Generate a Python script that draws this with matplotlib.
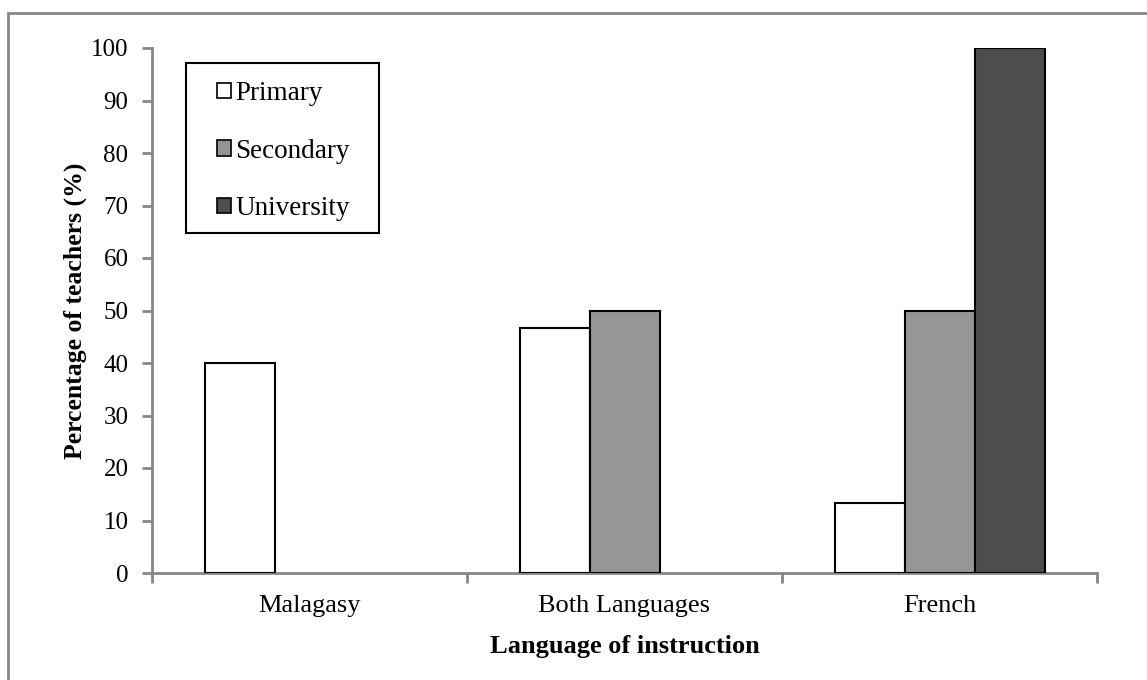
import numpy as np
import matplotlib.pyplot as plt
from matplotlib.patches import Rectangle

plt.rcParams['font.family'] = ['Liberation Serif', 'DejaVu Serif']

categories = ['Malagasy', 'Both Languages', 'French']
levels = ['Primary', 'Secondary', 'University']
primary = [40.0, 46.7, 13.3]
secondary = [0.0, 50.0, 50.0]
university = [0.0, 0.0, 100.0]
series = [primary, secondary, university]
fills = ['#ffffff', '#969696', '#4d4d4d']
grey = '#868686'

W, H = 1147, 680
L, R, B, T = 152, 1097, 573, 48
fig = plt.figure(figsize=(W / 100, H / 100), dpi=100)
ax = fig.add_axes([L / W, 1 - B / H, (R - L) / W, (B - T) / H])

# outer chart border (right/bottom edges fall outside the image)
fig.patches.append(Rectangle((8 / W, -0.01), 1.2, 1 - 13 / H + 0.01,
                             transform=fig.transFigure, fill=False,
                             edgecolor=grey, linewidth=2))

x = np.arange(len(categories))
bw = 1 / 4.5
for i, (vals, c, lab) in enumerate(zip(series, fills, levels)):
    vals = np.array(vals)
    keep = vals > 0  # excel draws nothing for a zero bar
    ax.bar(x[keep] + (i - 1) * bw, vals[keep], bw, color=c, edgecolor='black',
           linewidth=1.5, label=lab, zorder=3)

ax.set_xlim(-0.5, 2.5)
ax.set_ylim(0, 100)
ax.set_yticks(range(0, 101, 10))
ax.set_xticks(x)
ax.set_xticklabels(categories, fontsize=19)
ax.set_xticks([-0.5, 0.5, 1.5, 2.5], minor=True)
ax.tick_params(axis='x', which='major', length=0, pad=15.5)
ax.tick_params(axis='x', which='minor', length=7, width=2, color=grey)
ax.tick_params(axis='y', length=7, width=2, color=grey, labelsize=18, pad=10)

for s in ['top', 'right']:
    ax.spines[s].set_visible(False)
for s in ['left', 'bottom']:
    ax.spines[s].set_color(grey)
    ax.spines[s].set_linewidth(2)

ax.set_ylabel('Percentage of teachers (%)', fontsize=18.5, fontweight='bold', labelpad=3)
ax.set_xlabel('Language of instruction', fontsize=19, fontweight='bold', labelpad=13)


def ax_x(px):
    return (px - L) / (R - L)


def ax_y(py):
    return (B - py) / (B - T)


# legend frame drawn by hand so the box can be wider than its contents
ax.add_patch(Rectangle((ax_x(186), ax_y(233)), ax_x(379) - ax_x(186), ax_y(63) - ax_y(233),
                       transform=ax.transAxes, fill=True, facecolor='white',
                       edgecolor='black', linewidth=1.5, zorder=4))
leg = ax.legend(loc='upper left', bbox_to_anchor=(ax_x(217), ax_y(81)),
                fontsize=19.5, frameon=False,
                handlelength=0.5, handleheight=0.5, handletextpad=0.18,
                labelspacing=1.2, borderpad=0, borderaxespad=0)
leg.set_zorder(5)
for h in leg.legend_handles:
    h.set_linewidth(1.2)

fig.savefig('out.png', dpi=100)
